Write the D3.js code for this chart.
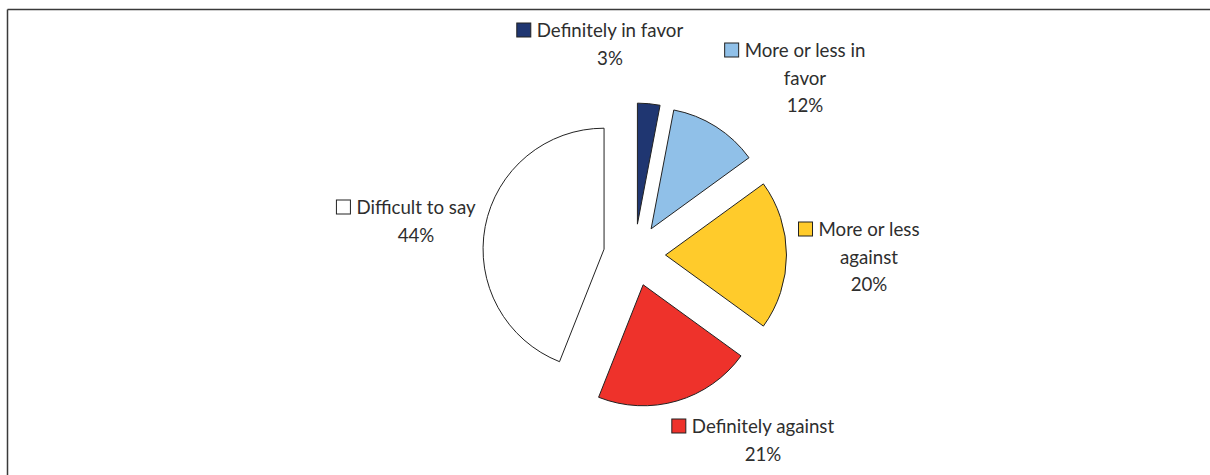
<!DOCTYPE html>
<html>
<head>
<meta charset="utf-8">
<script src="https://cdn.jsdelivr.net/npm/d3@7"></script>
<style>
  html, body { margin: 0; padding: 0; background: #fff; }
  svg { display: block; }
</style>
</head>
<body>
<svg id="chart" width="1210" height="475"></svg>
<script>
// ---- data ----
const categories = ["Definitely in favor", "More or less in favor", "More or less against", "Definitely against", "Difficult to say"];
const values = [3, 12, 20, 21, 44];
const valueLabels = ["3%", "12%", "20%", "21%", "44%"];
const labelLines = [["Definitely in favor"], ["More or less in", "favor"], ["More or less", "against"], ["Definitely against"], ["Difficult to say"]];
const colors = ["#1f3671", "#90c0e8", "#ffcb2b", "#ee322b", "#ffffff"];

// ---- layout ----
const W = 1210, H = 475;
const cx = 634.5, cy = 255, R = 121, explode = 31;
const fontFamily = "Lato, 'Open Sans', sans-serif";
const fontSize = 18.7, lineH = 27.5;
// label anchor (centre x of text lines, baseline y of first line)
const labelAnchors = [[610, 37], [805, 57], [869, 236], [763, 433], [416, 214]];

const svg = d3.select("#chart");

// frame
svg.append("line").attr("x1", 7.5).attr("y1", 9.5).attr("x2", W).attr("y2", 9.5)
  .attr("stroke", "#3a3a3a").attr("stroke-width", 1.5);
svg.append("line").attr("x1", 7.5).attr("y1", 9.5).attr("x2", 7.5).attr("y2", H)
  .attr("stroke", "#3a3a3a").attr("stroke-width", 1.5);

const pie = d3.pie().sort(null).value(d => d).startAngle(0).endAngle(2 * Math.PI);
const arcs = pie(values);
const arc = d3.arc().innerRadius(0).outerRadius(R);

const g = svg.append("g").attr("transform", `translate(${cx},${cy})`);
g.selectAll("path.slice").data(arcs).enter().append("path")
  .attr("class", "slice")
  .attr("d", arc)
  .attr("fill", (d, i) => colors[i])
  .attr("stroke", "#222")
  .attr("stroke-width", 1)
  .attr("stroke-linejoin", "round")
  .attr("transform", d => {
    const m = (d.startAngle + d.endAngle) / 2;
    return `translate(${Math.sin(m) * explode},${-Math.cos(m) * explode})`;
  });

// labels
categories.forEach((c, i) => {
  const [ax, ay] = labelAnchors[i];
  const lg = svg.append("g");
  const lines = labelLines[i].concat([valueLabels[i]]);
  let first = null;
  lines.forEach((t, j) => {
    const tx = lg.append("text")
      .attr("x", ax).attr("y", ay + j * lineH)
      .attr("text-anchor", "middle")
      .attr("font-family", fontFamily)
      .attr("font-size", fontSize)
      .attr("fill", "#2e2e2e")
      .text(t);
    if (j === 0) first = tx;
  });
  const w = first.node().getComputedTextLength();
  const sq = 14;
  lg.append("rect")
    .attr("x", ax - w / 2 - 6 - sq).attr("y", ay - sq)
    .attr("width", sq).attr("height", sq)
    .attr("fill", colors[i]).attr("stroke", "#222").attr("stroke-width", 1);
});
</script>
</body>
</html>
